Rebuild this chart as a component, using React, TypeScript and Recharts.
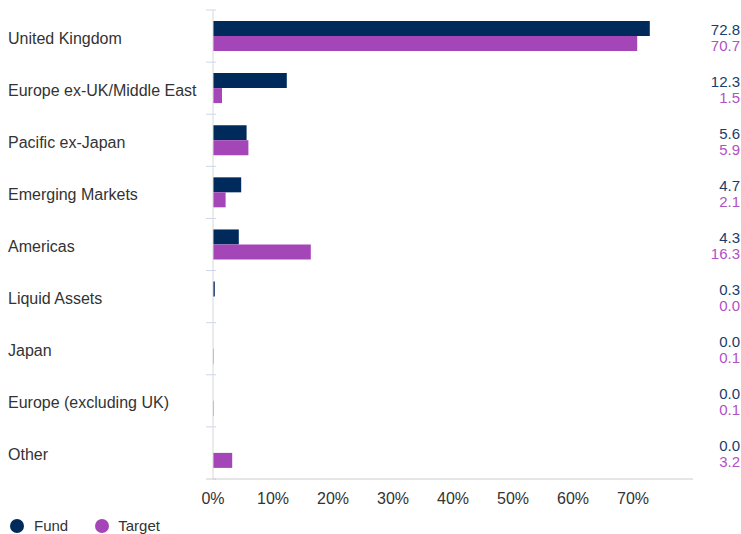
import { BarChart, Bar, XAxis, YAxis, Legend } from 'recharts'

const categories = [
    'United Kingdom',
    'Europe ex-UK/Middle East',
    'Pacific ex-Japan',
    'Emerging Markets',
    'Americas',
    'Liquid Assets',
    'Japan',
    'Europe (excluding UK)',
    'Other',
]
const fundValues = [72.8, 12.3, 5.6, 4.7, 4.3, 0.3, 0.0, 0.0, 0.0]
const targetValues = [70.7, 1.5, 5.9, 2.1, 16.3, 0.0, 0.1, 0.1, 3.2]
const xTicks = [0, 10, 20, 30, 40, 50, 60, 70]

const FUND = '#002a5c'
const TARGET = '#a446b8'
const FUND_TEXT = '#1c3b6c'
const TARGET_TEXT = '#b150c6'
const FONT = '"Liberation Sans", Arial, sans-serif'

const data = categories.map((name, i) => ({ name, fund: fundValues[i], target: targetValues[i] }))

const CategoryTick = (props: any) => {
    const { x, y, payload, index } = props
    const half = payload.offset ?? 0
    return (
        <g>
            <line x1={x + 1} x2={x + 11} y1={y - half} y2={y - half} stroke="#ccd6eb" />
            {index === categories.length - 1 && (
                <line x1={x + 1} x2={x + 11} y1={y + half} y2={y + half} stroke="#cccccc" />
            )}
            <text x={8} y={y + 2} fontSize={16} fill="#333" fontFamily={FONT} dominantBaseline="central">
                {payload.value}
            </text>
        </g>
    )
}

const ValueTick = (props: any) => {
    const { y, payload } = props
    const i = categories.indexOf(payload.value)
    return (
        <g fontFamily={FONT} fontSize={15} textAnchor="end">
            <text x={740} y={y - 7} fill={FUND_TEXT} dominantBaseline="central">
                {fundValues[i].toFixed(1)}
            </text>
            <text x={740} y={y + 9} fill={TARGET_TEXT} dominantBaseline="central">
                {targetValues[i].toFixed(1)}
            </text>
        </g>
    )
}

const LegendContent = () => (
    <div style={{ display: 'flex', alignItems: 'center', fontFamily: FONT, fontSize: 15, color: '#333' }}>
        <span style={{ display: 'inline-block', width: 14, height: 14, borderRadius: 7, background: FUND, marginLeft: 10 }} />
        <span style={{ marginLeft: 10 }}>Fund</span>
        <span style={{ display: 'inline-block', width: 14, height: 14, borderRadius: 7, background: TARGET, marginLeft: 27 }} />
        <span style={{ marginLeft: 9 }}>Target</span>
    </div>
)

export default function App() {
    return (
        <div style={{ position: 'absolute', left: 0, top: 0, width: 741, height: 534, background: '#fff' }}>
            <BarChart
                width={741}
                height={534}
                data={data}
                layout="vertical"
                margin={{ top: 10, right: 0, left: 0, bottom: 0 }}
                barSize={15}
                barGap={0}
            >
                <XAxis
                    type="number"
                    domain={[0, 80]}
                    ticks={xTicks}
                    tickFormatter={(v) => `${v}%`}
                    tickLine={false}
                    axisLine={{ stroke: '#cccccc' }}
                    tick={{ fontSize: 16, fill: '#333', fontFamily: FONT }}
                    tickMargin={8}
                    height={30}
                />
                <YAxis
                    yAxisId="left"
                    type="category"
                    dataKey="name"
                    width={213}
                    axisLine={{ stroke: '#d8d8d8' }}
                    tickLine={false}
                    tick={<CategoryTick />}
                    interval={0}
                />
                <YAxis
                    yAxisId="right"
                    orientation="right"
                    type="category"
                    dataKey="name"
                    width={48}
                    axisLine={false}
                    tickLine={false}
                    tick={<ValueTick />}
                    interval={0}
                />
                <Legend
                    verticalAlign="bottom"
                    align="left"
                    height={25}
                    content={<LegendContent />}
                    wrapperStyle={{ left: 0, bottom: -8 }}
                />
                <Bar yAxisId="left" dataKey="fund" name="Fund" fill={FUND} isAnimationActive={false} />
                <Bar yAxisId="left" dataKey="target" name="Target" fill={TARGET} isAnimationActive={false} />
            </BarChart>
        </div>
    )
}
